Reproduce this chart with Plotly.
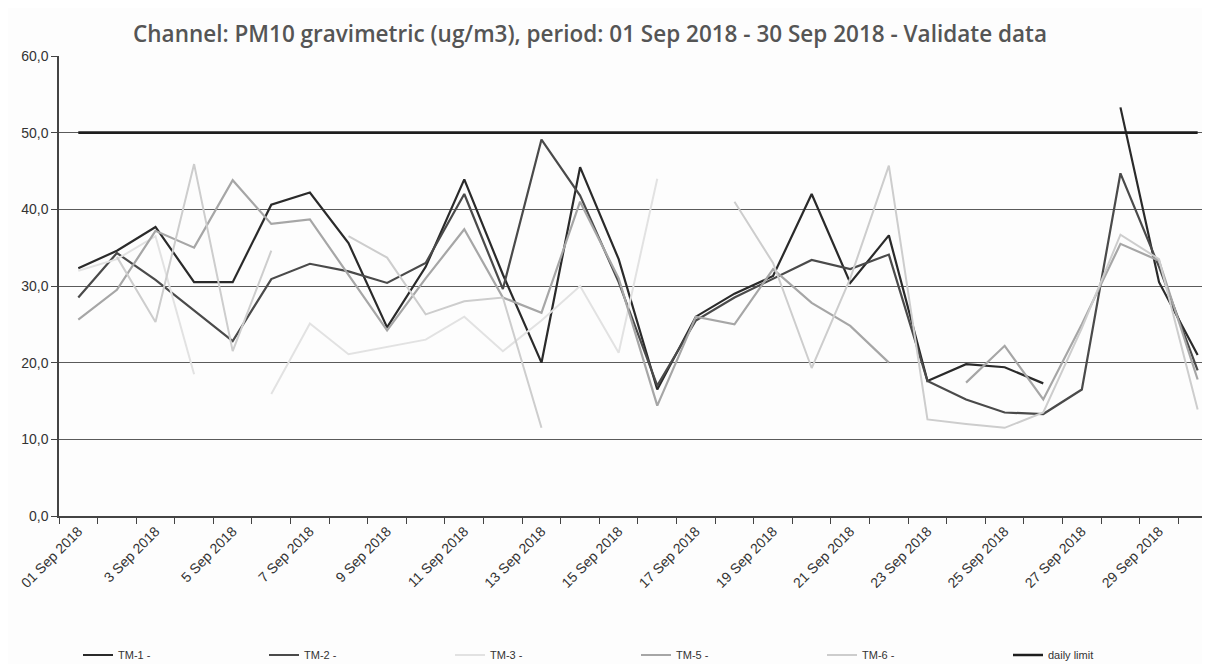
import plotly.graph_objects as go

days = list(range(1, 31))
tick_days = list(range(1, 30, 2))
tick_labels = ["01 Sep 2018"] + [f"{d} Sep 2018" for d in range(3, 30, 2)]

tm1 = [32.3, 34.6, 37.7, 30.5, 30.5, 40.6, 42.2, 35.6, 24.6, 32.5,
       43.9, 31.5, 20.0, 45.5, 33.5, 16.5, 26.0, 29.0, 31.3, 42.0,
       30.4, 36.6, 17.6, 19.8, 19.4, 17.3, None, 53.3, 30.5, 21.0]
tm2 = [28.5, 34.3, 30.8, 26.8, 22.8, 30.9, 32.9, 31.9, 30.4, 33.0,
       42.0, 29.6, 49.1, 41.8, 30.5, 17.0, 25.5, 28.5, 31.0, 33.4,
       32.2, 34.1, 17.6, 15.2, 13.5, 13.3, 16.5, 44.7, 32.5, 19.0]
tm3 = [32.0, 33.5, 36.5, 18.5, None, 15.9, 25.1, 21.1, 22.0, 23.0,
       26.0, 21.5, 25.5, 30.0, 21.3, 44.0, None, None, None, None,
       None, None, None, None, None, None, None, None, None, None]
tm5 = [25.6, 29.5, 37.2, 35.0, 43.8, 38.1, 38.7, 31.5, 24.2, 31.0,
       37.4, 28.5, 26.5, 41.0, 31.0, 14.4, 26.0, 25.0, 32.2, 27.8,
       24.8, 20.0, None, 17.4, 22.2, 15.2, 25.0, 35.5, 33.3, 17.8]
tm6 = [None, 33.8, 25.3, 45.9, 21.5, 34.6, None, 36.5, 33.7, 26.3,
       28.0, 28.5, 11.5, None, None, None, None, 41.0, 33.0, 19.3,
       31.0, 45.7, 12.6, 12.0, 11.5, 13.5, 24.5, 36.7, 33.5, 13.9]
daily_limit = [50.0] * 30

series = [
    ("TM-1 -", tm1, "#2a2a2a", 2.2),
    ("TM-2 -", tm2, "#4a4a4a", 2.2),
    ("TM-3 -", tm3, "#e2e2e2", 2.0),
    ("TM-5 -", tm5, "#a6a6a6", 2.2),
    ("TM-6 -", tm6, "#cdcdcd", 2.0),
    ("daily limit", daily_limit, "#1e1e1e", 2.6),
]

fig = go.Figure()
for name, vals, color, w in series:
    fig.add_trace(go.Scatter(x=days, y=vals, name=name, mode="lines",
                             line=dict(color=color, width=w),
                             connectgaps=False))

W, H = 1202, 656
fig.update_layout(
    width=W, height=H,
    paper_bgcolor="#fdfdfd", plot_bgcolor="#fdfdfd",
    margin=dict(l=51, r=0, t=48, b=148, autoexpand=False),
    separators=",.",
    title=dict(text="Channel: PM10 gravimetric (ug/m3), period: 01 Sep 2018 - 30 Sep 2018 - Validate data",
               x=582/W, xanchor="center", xref="container",
               y=1-26/H, yanchor="middle", yref="container",
               font=dict(family="Open Sans", size=22.5, color="#555555", weight=600)),
    showlegend=True,
    legend=dict(orientation="h", xref="container", yref="container",
                x=70/W, xanchor="left", y=1-647/H, yanchor="middle",
                entrywidth=141, entrywidthmode="pixels",
                font=dict(family="Liberation Sans Narrow, Liberation Sans", size=11, color="#333333"),
                bgcolor="rgba(0,0,0,0)", traceorder="normal"),
    xaxis=dict(range=[0.5, 30.32], tickvals=tick_days, ticktext=tick_labels,
               tickangle=-45, ticks="", showgrid=False, zeroline=False, automargin=False,
               showline=True, linecolor="#444444", linewidth=1.5,
               tickfont=dict(family="Liberation Sans", size=14, color="#333333"),
               minor=dict(tickmode="array", tickvals=[d + 0.5 for d in range(0, 31)],
                          ticks="outside", ticklen=6, tickcolor="#444444", tickwidth=1,
                          showgrid=False)),
    yaxis=dict(range=[0, 60], tickvals=[0, 10, 20, 30, 40, 50, 60], tickformat=".1f",
               ticks="outside", ticklen=6, tickcolor="#444444", automargin=False,
               showgrid=True, gridcolor="#5a5a5a", gridwidth=1, zeroline=False,
               showline=True, linecolor="#444444", linewidth=1.5,
               tickfont=dict(family="Liberation Sans", size=14, color="#333333")),
)

fig.write_html("out.html")
